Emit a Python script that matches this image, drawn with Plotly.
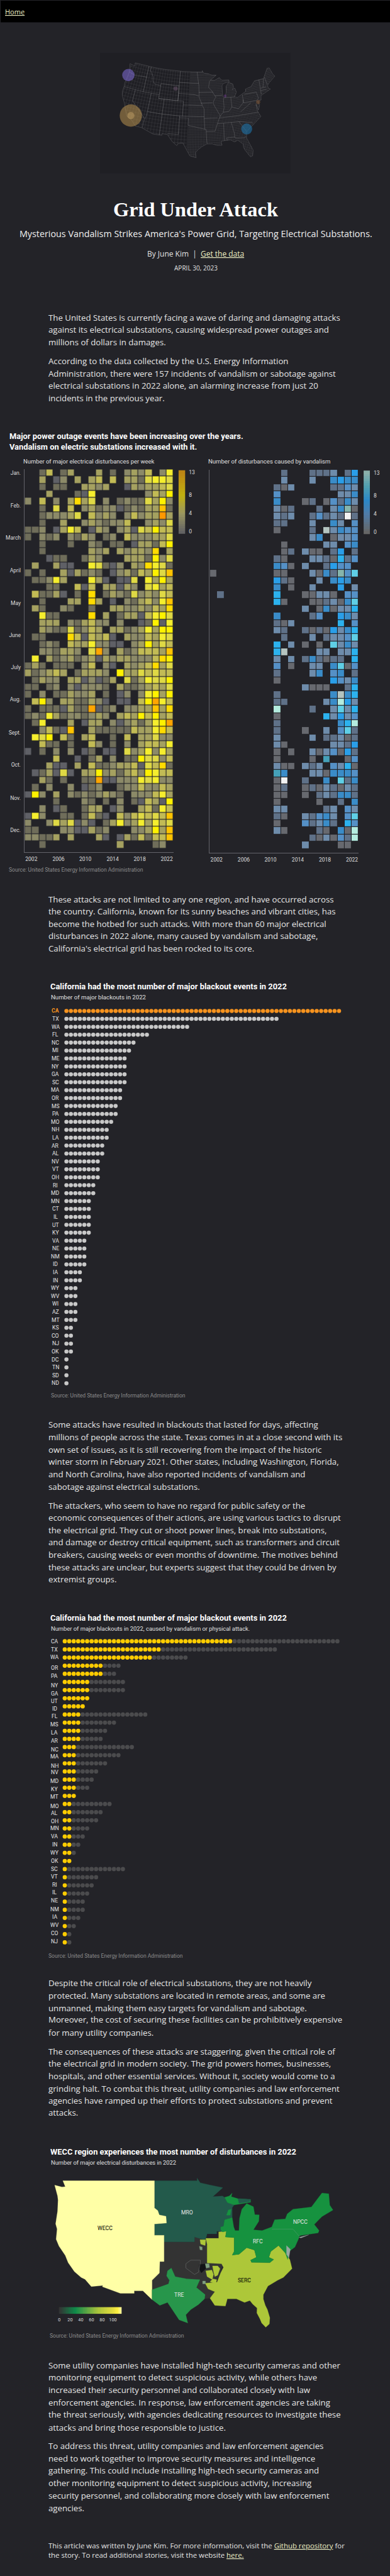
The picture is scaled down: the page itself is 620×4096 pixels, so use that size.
import numpy as np
import plotly.graph_objects as go

# ---------------------------------------------------------------- page frame
REF_W, REF_H = 900.0, 5949.0
S = 620.0 / REF_W
BG = "#232328"
OPEN = "Open Sans"
ROBOTO = "Roboto"
BODY = "#e6e6e6"
LINK = "#eef0c4"

# ---------------------------------------------------------------- heatmap data
years = list(range(2002, 2023))
tick_years = ["2002", "2006", "2010", "2014", "2018", "2022"]
tick_year_pos = [2002.41, 2006.25, 2010.03, 2013.89, 2017.71, 2021.53]
months = ["Jan.", "Feb.", "March", "April", "May", "June", "July", "Aug.", "Sept.", "Oct.", "Nov.", "Dec."]
month_rows = [0.02, 4.56, 9.1, 13.6, 18.2, 22.7, 27.2, 31.7, 36.3, 40.8, 45.5, 50.0]

disturbances = [
    [0,0,2,5,0,2,4,0,0,0,4,0,2,0,3,4,3,5,0,3,7],
    [0,0,4,0,1,3,0,4,0,4,5,0,5,0,4,4,2,6,7,7,6],
    [0,0,2,0,2,2,0,0,4,4,3,4,0,0,1,4,3,4,4,5,6],
    [0,0,0,4,0,0,0,2,1,7,0,0,0,0,0,0,0,3,5,4,8],
    [3,0,5,0,3,0,4,9,4,6,0,3,0,2,3,2,2,6,4,8,3],
    [0,0,2,0,6,0,5,0,3,4,2,3,3,1,2,3,2,4,4,10,2],
    [0,0,2,3,3,3,4,6,0,5,3,4,3,0,3,5,3,4,4,12,4],
    [0,0,2,0,0,4,0,0,3,4,3,2,3,3,5,0,0,3,4,3,6],
    [2,2,3,0,1,4,7,5,0,1,4,3,0,3,4,1,6,5,8,5,5],
    [2,0,3,2,3,0,3,2,4,3,0,2,3,0,5,3,3,3,4,4,6],
    [0,0,2,0,0,0,2,0,0,3,2,0,2,2,0,1,4,4,2,5,8],
    [0,0,2,0,0,0,0,0,0,4,3,4,0,4,3,4,4,3,9,0,4],
    [0,0,0,1,2,2,0,0,2,4,3,0,0,0,4,4,4,2,8,3,6],
    [0,4,0,0,4,1,1,0,0,7,6,2,1,3,0,4,3,9,7,6,2],
    [2,0,2,0,0,4,1,4,2,3,2,0,1,3,4,2,5,4,8,6,10],
    [0,2,2,3,7,4,0,0,0,7,4,1,0,1,1,6,0,7,4,8,4],
    [0,0,0,2,2,0,0,5,1,5,0,4,4,1,4,3,0,6,7,4,5],
    [0,5,2,2,4,1,0,2,0,9,0,2,4,3,2,6,3,4,3,6,5],
    [0,0,2,0,0,0,4,4,0,9,4,0,1,0,3,2,4,5,3,7,10],
    [0,4,2,0,0,3,2,0,0,2,0,0,4,4,3,3,4,3,5,4,9],
    [0,0,7,2,2,0,0,0,0,9,0,4,0,2,4,4,1,5,7,8,6],
    [0,0,4,4,4,0,3,2,4,5,3,3,0,3,0,0,1,2,8,1,7],
    [0,0,4,3,2,2,6,2,3,5,4,0,4,4,2,3,4,7,4,8,8],
    [0,2,2,0,0,0,9,5,1,5,4,5,1,0,4,3,3,5,4,7,6],
    [0,0,2,3,2,0,5,4,4,7,3,3,1,1,0,3,4,8,4,6,5],
    [0,0,3,3,2,4,4,3,0,6,11,3,0,4,2,3,5,5,5,4,10],
    [0,7,0,4,2,3,4,2,3,4,1,4,3,4,4,3,3,3,5,9,8],
    [2,4,2,0,2,2,2,0,3,5,0,3,1,0,4,3,4,5,9,4,6],
    [4,2,3,4,5,4,0,2,4,4,4,3,0,8,4,4,6,5,6,5,5],
    [0,2,4,3,3,0,4,4,1,3,1,2,4,0,6,2,4,7,6,6,8],
    [2,2,0,2,3,0,3,1,3,3,3,2,0,4,2,2,3,4,5,4,6],
    [2,0,3,0,2,2,4,3,3,4,0,2,0,1,3,0,3,7,8,4,8],
    [0,5,8,3,0,4,4,2,2,4,3,1,0,1,1,0,5,8,11,7,5],
    [2,0,2,2,2,1,4,2,2,11,1,2,3,0,3,3,4,4,10,4,9],
    [2,3,2,7,4,2,3,3,2,3,4,3,0,4,5,4,8,5,8,4,5],
    [0,2,7,0,0,0,4,0,1,4,4,0,3,1,3,4,2,4,7,8,11],
    [0,0,3,5,2,1,10,0,0,4,2,2,2,2,2,5,4,4,7,9,5],
    [0,7,6,8,0,5,2,0,4,5,0,0,2,0,5,0,4,4,6,3,3],
    [0,0,5,2,2,0,2,0,0,5,3,0,2,0,3,0,4,5,5,4,7],
    [1,0,2,0,3,0,3,0,1,2,0,1,1,0,6,3,4,7,3,7,4],
    [0,0,0,0,5,0,0,1,0,2,4,0,3,0,2,2,8,6,6,3,5],
    [0,0,0,4,1,1,0,4,0,5,2,2,3,4,4,5,1,6,5,9,2],
    [0,1,2,4,1,6,1,0,4,4,8,3,4,2,4,5,3,8,7,5,5],
    [0,0,4,2,0,2,0,0,2,2,11,1,1,3,3,3,7,6,7,3,3],
    [0,2,0,3,0,0,3,0,1,2,3,0,0,2,3,3,5,3,3,5,4],
    [1,8,3,0,4,0,3,2,3,2,3,4,3,2,0,3,3,3,5,7,4],
    [0,0,0,0,2,0,0,0,3,2,0,2,0,3,0,2,1,5,4,1,8],
    [0,0,3,0,1,2,0,0,2,4,4,0,1,3,0,0,4,5,2,7,5],
    [1,7,3,0,0,2,2,0,2,5,2,1,0,5,3,5,6,5,6,5,10],
    [3,0,0,3,6,4,6,1,3,1,0,2,4,7,3,4,7,4,7,5,6],
    [2,2,0,0,0,3,3,1,1,4,2,3,0,0,0,3,3,4,8,4,10],
    [3,3,2,2,4,0,4,0,0,0,4,1,0,1,4,2,5,2,5,5,10],
    [0,0,2,0,0,0,0,0,0,0,0,0,0,4,0,0,0,0,2,3,0],
]

# vandalism counts per week row, keyed by column index (2002 = 0)
vandalism_sparse = [
    {10:2,14:2,15:2,16:2,17:3,19:2,20:6},
    {10:3,14:3,17:5,18:6,19:5,20:5},
    {9:2,10:1,11:3,17:2,18:2,19:4,20:3},
    {9:4,18:3,19:3,20:5},
    {9:5,13:1,14:2,16:1,17:4,18:2,19:5,20:3},
    {9:3,10:1,11:2,15:2,17:3,18:5,19:10,20:1},
    {9:3,10:2,11:3,14:2,15:4,16:2,17:3,18:2,19:13,20:2},
    {9:2,10:2,14:3,17:5,18:3,20:4},
    {9:1,14:2,16:11,17:3,18:5,19:4,20:4},
    {14:3,15:5,17:1,18:3,19:3,20:4},
    {10:1,16:3,17:3,19:4,20:5},
    {10:1,11:2,13:3,14:1,15:1,17:2,18:6,20:2},
    {9:2,10:1,14:3,15:3,16:2,17:1,18:7,19:2,20:4},
    {9:5,10:4,11:1,13:3,16:2,17:6,18:4,19:4},
    {0:1,9:1,10:1,14:3,15:1,16:5,17:2,18:10,19:4,20:8},
    {9:6,10:2,11:1,15:3,17:5,18:6,19:5},
    {9:5,11:1,14:3,18:6,20:3},
    {1:2,9:7,13:1,14:1,15:3,16:3,17:1,19:4,20:4},
    {9:7,10:1,14:1,15:1,16:2,17:3,18:1,19:5,20:8},
    {13:3,15:1,16:5,17:1,18:3,19:3,20:7},
    {9:5,14:2,15:4,18:6,19:5,20:3},
    {9:2,10:1,11:3,18:7,20:4},
    {9:3,10:2,13:2,14:1,15:2,16:1,17:6,18:3,19:5,20:7},
    {10:2,14:3,16:2,17:3,18:3,19:4,20:8},
    {9:7,11:3,13:1,15:1,17:8,18:3,19:5,20:3},
    {9:7,10:11,15:3,16:3,18:3,19:3,20:7},
    {9:3,11:3,13:2,14:5,15:2,16:1,17:2,18:2,20:7},
    {9:4,11:1,14:3,15:3,17:5,18:8,19:1,20:4},
    {9:2,14:3,15:5,17:4,18:5,20:2},
    {9:1,17:6,18:4,19:3,20:5},
    {13:3,14:1,15:1,16:1,19:2,20:7},
    {9:2,17:5,18:11,19:5,20:7},
    {9:2,10:2,16:3,17:5,18:12,19:6,20:3},
    {9:12,14:2,17:3,18:8,19:3,20:7},
    {9:1,16:7,17:3,18:6,19:3,20:4},
    {9:2,18:5,19:7,20:12},
    {9:2,13:1,16:3,18:4,19:8,20:2},
    {9:3,14:3,16:2,17:2,18:3,19:1,20:2},
    {9:3,10:1,17:3,18:3,19:2,20:6},
    {9:1,11:1,14:3,15:1,16:3,17:4,18:1,19:6,20:2},
    {9:1,14:1,16:9,19:1,20:4},
    {9:3,10:1,11:1,13:3,14:2,15:3,17:4,18:3,19:7,20:1},
    {9:9,10:5,14:3,15:3,16:1,17:5,18:5,19:5,20:4},
    {9:1,10:13,13:2,16:5,18:8,19:2,20:5},
    {9:1,10:2,13:1,14:2,15:1,16:3,17:2,18:1,19:3,20:2},
    {9:1,10:1,13:1,15:2,16:3,17:2,18:5,19:5,20:2},
    {9:1,15:1,18:2,20:5},
    {9:3,10:3,16:2,17:3,19:4,20:3},
    {9:2,10:1,13:3,14:2,15:4,16:5,17:3,19:4,20:8},
    {9:1,13:4,14:2,15:3,16:5,17:2,19:7,20:4},
    {9:3,10:1,15:2,16:1,18:5,19:1,20:12},
    {14:2,15:1,16:3,17:1,18:4,19:2,20:12},
    {13:3,18:1,19:1},
]

yellow_levels = ["#5f6066","#6f6d5a","#8c8a68","#a5a160","#c2bb55","#dfd945","#f5ee2e","#fff200","#ffdc00","#ffc400","#ffa600","#ff9800"]
blue_levels = ["#67696f","#5f7188","#6e8cab","#5590c6","#3a8cc8","#2a9ee8","#2cb2ee","#5fcfe6","#45a0b8","#86b5ac","#b4c4c0","#b4ecdf","#f2f2f2"]
legend_ticks = [0, 4, 8, 13]
yellow_legend = [(0, "#636363"), (4/13, "#9a9660"), (8/13, "#c0b010"), (1, "#bb8514")]
blue_legend = [(0, "#666666"), (4/13, "#4f7ca8"), (7/13, "#2b88c8"), (10/13, "#4f9fb0"), (1, "#8bb0aa")]

# ---------------------------------------------------------------- dot chart data
blackout_states = ["CA","TX","WA","FL","NC","MI","ME","NY","GA","SC","MA","OR","MS","PA","MO","NH","LA","AR","AL","NV","VT","OH","RI","MD","MN","CT","IL","UT","KY","VA","NE","NM","ID","IA","IN","WY","WV","WI","AZ","MT","KS","CO","NJ","OK","DC","TN","SD","ND"]
blackout_counts = [62,48,28,19,16,15,14,14,14,14,13,13,12,12,11,10,10,9,9,8,8,8,7,7,6,6,6,6,6,5,5,5,5,4,4,3,3,3,3,3,2,2,2,2,1,1,1,1]

attack_states = ["CA","TX","WA","OR","PA","NY","GA","UT","ID","FL","MS","LA","AR","NC","MA","NH","NV","MD","KY","MT","MO","AL","OH","MN","VA","IN","WY","OK","SC","VT","RI","IL","NE","NM","IA","WV","CO","NJ"]
attack_counts = [38,22,20,9,9,6,6,6,5,4,4,4,4,3,3,3,3,3,3,3,2,2,2,2,2,2,2,2,1,1,1,1,1,1,1,1,1,1]
attack_totals = [62,48,28,13,12,14,14,6,5,19,12,10,9,16,13,10,8,7,6,3,11,9,8,6,5,4,3,2,14,8,7,6,5,5,4,3,2,2]
attack_label_shift = [0,0,-.04,.25,.29,.41,.41,.33,.29,.2,.24,.24,.2,.33,.2,.29,.12,.16,.16,.12,.24,.12,.12,0,0,-.04,-.04,0,0,-.04,-.08,-.12,-.12,-.08,-.16,-.08,-.08,-.08]

# ---------------------------------------------------------------- region map data (lon, lat)
wecc = [(-123.0,49),(-122.5,48.2),(-123.2,48.15),(-124.7,48.4),(-124.1,46.9),(-124.0,46.3),(-124.1,44.7),(-124.5,42.8),(-124.2,42),(-124.4,40.4),(-123.8,39.3),(-122.5,37.8),(-121.9,36.6),(-120.6,35.1),(-119.2,34.1),(-118.4,33.8),(-117.1,32.53),(-114.7,32.72),(-114.8,32.5),(-111.07,31.33),(-108.2,31.33),(-108.2,31.78),(-106.4,31.78),(-104.5,30.23),(-104.5,31.98),(-104.5,33.62),(-102.97,34.87),(-102.89,36.79),(-102.01,36.79),(-102.01,41.03),(-104.0,41.03),(-104.0,42.77),(-101.49,42.92),(-101.6,43.94),(-103.0,44.14),(-103.3,44.78),(-104.0,45.18),(-104.0,49)]
mro = [(-104,49),(-95.15,49),(-95.15,49.38),(-94.5,48.74),(-92.5,48.43),(-89.8,48.06),(-91.87,46.8),(-89.87,46.9),(-89.45,46.7),(-88.86,46.0),(-87.46,45.63),(-87.86,45.2),(-87.86,43.76),(-89.46,43.43),(-89.67,42.43),(-90.27,42.32),(-90.27,41.88),(-89.87,41.55),(-91.07,41.66),(-91.07,41.26),(-93.07,41.26),(-93.27,40.66),(-93.67,40.33),(-95.68,40.77),(-95.68,40),(-102.01,40),(-102.01,41.03),(-104,41.03),(-104,42.77),(-101.49,42.92),(-101.6,43.94),(-103,44.14),(-103.3,44.78),(-104,45.18)]
spp = [(-102.01,40),(-95.68,40),(-95.68,40.77),(-93.47,40.55),(-93.07,39.64),(-93.07,36.79),(-89.67,36.43),(-90.87,33.87),(-93.07,33.12),(-92.87,32.11),(-91.47,31.61),(-92.47,30.48),(-93.59,30.35),(-93.47,31.11),(-95.28,32.36),(-94.55,33.74),(-97.28,33.87),(-99.68,34.25),(-100.49,35.71),(-101.29,35.24),(-101.49,34.37),(-100.89,33.62),(-101.09,32.99),(-103.29,32.36),(-104.5,31.98),(-104.5,33.62),(-102.97,34.87),(-102.89,36.79),(-102.01,36.79)]
tre = [(-104.5,31.98),(-103.29,32.36),(-101.09,32.99),(-100.89,33.62),(-101.49,34.37),(-101.29,35.24),(-100.49,35.71),(-99.68,34.25),(-97.28,33.87),(-94.55,33.74),(-95.28,32.36),(-93.47,31.11),(-93.59,30.35),(-94.88,29.31),(-96.48,28.39),(-97.48,27.46),(-97.08,25.93),(-98.88,26.53),(-100.09,28.12),(-101.29,29.71),(-102.89,29.18),(-104.5,30.23)]
serc = [(-93.35,40.55),(-90.67,40.55),(-90.67,41.55),(-89.07,41.66),(-89.27,40.77),(-87.46,40.66),(-87.46,38.45),(-87.86,37.86),(-86.46,37.98),(-84.86,39.05),(-83.25,38.69),(-82.85,37.5),(-84.05,37.02),(-83.85,36.67),(-80.05,36.6),(-79.25,37.14),(-80.25,37.5),(-79.85,38.45),(-78.25,39.4),(-76.84,38.21),(-75.9,37.1),(-75.44,35.6),(-77.24,34.12),(-78.44,33.62),(-80.45,32.61),(-81.4,31.1),(-81.4,30.3),(-81.0,29.2),(-80.55,28.4),(-80.05,26.9),(-80.15,25.75),(-80.9,25.15),(-81.75,25.95),(-82.1,26.7),(-82.75,27.8),(-82.7,28.7),(-83.6,29.4),(-84.2,30.05),(-85.3,29.7),(-87,30.35),(-88.87,30.35),(-89.27,29.05),(-91.47,29.18),(-92.47,30.48),(-91.47,31.61),(-92.87,32.11),(-93.47,33.12),(-91.0,33.3),(-90.27,34.87),(-89.67,35.83),(-90.07,36.43),(-93.07,36.55),(-93.07,39.64)]
rfc = [(-90.27,42.32),(-89.67,42.43),(-89.46,43.43),(-87.86,43.76),(-87.54,42.32),(-87.26,41.77),(-86.46,41.77),(-86.34,43.65),(-85.86,44.98),(-84.86,45.8),(-83.46,45.35),(-83.17,44.18),(-82.25,44.16),(-82.34,43.18),(-83.46,41.88),(-81.65,41.77),(-79.65,42.32),(-79.65,41.99),(-75.24,41.99),(-73.96,40.88),(-74.04,40.55),(-74.84,39.17),(-76.04,38.45),(-76.36,37.14),(-76.84,38.21),(-78.25,39.4),(-79.85,38.45),(-80.25,37.5),(-79.25,37.14),(-80.05,36.6),(-83.85,36.67),(-84.05,37.02),(-82.85,37.5),(-83.25,38.69),(-84.86,39.05),(-86.46,37.98),(-87.86,37.86),(-87.46,38.45),(-87.46,40.66),(-89.27,40.77),(-89.07,41.66),(-89.87,41.55),(-90.27,41.88)]
npcc = [(-79.65,42.32),(-79.05,43.43),(-76.84,43.54),(-76.44,44.3),(-75.24,44.98),(-71.43,45.3),(-70.03,46.6),(-69.23,47.32),(-67.82,47.21),(-67.62,45.59),(-66.94,44.86),(-69.23,43.9),(-70.83,42.7),(-69.83,41.77),(-70.03,41.4),(-73.64,41.0),(-73.96,40.88),(-75.24,41.99),(-79.65,41.99)]
upper_michigan = [(-89.45,46.7),(-88.46,46.9),(-87.87,47.3),(-88.06,46.8),(-86.66,46.5),(-84.05,46.4),(-84.05,46.0),(-86.86,45.7),(-87.46,45.6),(-88.86,45.95)]
upper_michigan_east = [(-86.66,46.5),(-84.05,46.4),(-84.25,46.05),(-86.45,45.85)]
green_bay = [(-89.06,44.1),(-88.66,44.87),(-88.06,44.98),(-88.26,44.1)]
serc_patch_ks = [(-94.55,40.33),(-93.35,40.33),(-93.47,39.4),(-94.4,39.64)]
serc_patch_a = [(-93.35,35.24),(-92.07,35.36),(-91.75,34.62),(-91.99,33.74),(-93.07,34.25)]
serc_patch_b = [(-91.95,36.07),(-90.87,36.07),(-90.39,35.6),(-90.87,34.5),(-91.47,34.25),(-91.75,35.12)]
serc_patch_c = [(-91.87,33.87),(-91.07,33.74),(-91.27,32.99),(-92.47,33.37)]
black_patch = [(-94.68,36.31),(-93.27,36.43),(-93.35,35.6),(-94.27,34.9),(-94.68,35.5)]
gray_patch_a = [(-93.47,36.43),(-92.67,36.43),(-92.55,35.83),(-93.27,35.7)]
gray_patch_b = [(-94.0,33.5),(-93.4,33.5),(-93.4,33.0),(-94.0,33.0)]
gray_patch_c = [(-94.68,39.29),(-94.08,39.17),(-94.08,38.69),(-94.55,38.74)]
chesapeake = [(-76.6,39.4),(-75.8,38.8),(-76.1,37.4),(-76.6,38.0)]
long_island = [(-74.0,40.7),(-72.0,41.1),(-73.6,40.6)]
outlined_area = [(-97.48,36.43),(-96.48,37.02),(-94.47,37.02),(-94.47,36.55),(-94.87,35.0),(-95.68,34.62),(-97.48,35.71),(-97.48,36.43)]
ny_pa_line = [(-79.65,41.99),(-75.24,41.99),(-73.96,40.88)]

region_fill = [
    (spp, "#333333"), (mro, "#235a4b"), (wecc, "#ffffa6"), (tre, "#27964b"),
    (serc, "#adc739"), (rfc, "#16923f"), (npcc, "#16923f"), (upper_michigan, "#16923f"),
    (upper_michigan_east, "#235a4b"), (green_bay, "#16923f"), (serc_patch_ks, "#adc739"),
    (serc_patch_a, "#adc739"), (serc_patch_b, "#adc739"), (serc_patch_c, "#adc739"),
    (black_patch, "#111216"), (gray_patch_a, "#7f9f80"), (gray_patch_b, "#7f9f80"),
    (gray_patch_c, "#7f9f80"), (chesapeake, "#98a8a0"), (long_island, "#98a8a0"),
]
region_names = ["WECC", "MRO", "NPCC", "RFC", "SERC", "TRE"]
region_name_lon = [-114.3, -97.2, -73.75, -82.5, -85.3, -98.9]
region_name_lat = [42.15, 44.5, 43.05, 40.05, 33.55, 31.08]
region_name_color = ["#000000", "#e8e8e8", "#e8e8e8", "#e8e8e8", "#000000", "#e8e8e8"]
map_scale_stops = [0, 20, 40, 60, 80, 100]
map_scale_values = list(range(0, 118, 2))
map_scale = [(0, "#333333"), (30/116, "#0f8a4a"), (48/116, "#4ea045"), (72/116, "#a8c23c"), (100/116, "#e2dc3e"), (110/116, "#fff040"), (1, "#fff8a0")]

# ---------------------------------------------------------------- cover map data
conus = [(-122.8,49),(-95.15,49),(-95.15,49.38),(-94.6,48.72),(-93,48.6),(-91.4,48.07),(-89.6,48.0),(-92,46.7),(-90.4,46.6),(-88.4,47.3),(-87.5,46.5),(-84.8,46.5),(-84.7,45.9),(-87,45.7),(-87.6,45.1),(-87.8,43),(-87.5,41.7),(-86.9,41.7),(-86.3,43),(-86.2,44.7),(-85,45.75),(-83.5,45.3),(-83.3,44.3),(-83.9,43.7),(-82.9,44),(-82.4,43),(-83.2,42),(-83.4,41.7),(-82.5,41.4),(-81,41.9),(-79,42.7),(-79,43.3),(-76.8,43.6),(-76.2,44.2),(-75,45),(-71.5,45),(-70.3,46.2),(-69.2,47.45),(-68.2,47.35),(-67.8,45.7),(-67,44.8),(-69,44),(-70.7,43),(-70.7,42.2),(-70,41.8),(-71.2,41.5),(-73.8,40.9),(-74,40.55),(-74.2,39.6),(-75.5,39.4),(-75.1,38.4),(-75.9,37.1),(-76.3,38.8),(-76.4,37),(-75.5,35.3),(-76.6,34.7),(-78,33.9),(-79.3,33),(-81,32),(-81.4,30.4),(-80.6,28.4),(-80,26.8),(-80.3,25.3),(-81.1,25.1),(-81.8,26.1),(-82.7,27.7),(-82.7,28.8),(-83.7,29.7),(-84.2,30.05),(-85.3,29.7),(-86.5,30.4),(-88,30.25),(-89.5,30.2),(-89.2,29.1),(-90.6,29.1),(-92,29.6),(-93.8,29.7),(-94.8,29.3),(-96.5,28.3),(-97.4,27.3),(-97.2,25.9),(-99.1,26.4),(-100.3,28.3),(-101.4,29.8),(-102.7,29.7),(-103.2,29),(-104.5,29.7),(-106.5,31.75),(-108.2,31.78),(-108.2,31.33),(-111.07,31.33),(-114.8,32.5),(-117.1,32.53),(-118.4,33.8),(-120.6,34.6),(-121.9,36.6),(-122.5,37.8),(-123.8,39.3),(-124.4,40.4),(-124.2,42),(-124.5,42.8),(-124.1,44.7),(-124,46.3),(-124.7,48.4),(-123.2,48.15),(-122.5,48.2)]
state_lines = [
    [(-124,46.25),(-122.8,45.9),(-121,45.65),(-119,46),(-116.9,46)],
    [(-117.03,49),(-117.03,46),(-116.9,45.9),(-117,44.2),(-117,42)],
    [(-124.2,42),(-111.05,42)],
    [(-120,42),(-120,39),(-114.6,35)],
    [(-114.05,42),(-114.05,36.2),(-114.6,35),(-114.8,32.5)],
    [(-116.05,49),(-116.05,48),(-114.5,46.6),(-114.5,45.6),(-113.4,44.6),(-111.05,44.5)],
    [(-111.05,45),(-104.05,45),(-104.05,41),(-111.05,41),(-111.05,45)],
    [(-111.05,41),(-109.05,41),(-109.05,37),(-114.05,37)],
    [(-109.05,41),(-102.05,41),(-102.05,37),(-109.05,37)],
    [(-109.05,37),(-109.05,31.33)],
    [(-103,37),(-103,32),(-106.6,32)],
    [(-104.05,49),(-104.05,41)],
    [(-104.05,45.94),(-96.56,45.94)],
    [(-104.05,43),(-98.5,43),(-96.5,42.5)],
    [(-102.05,40),(-95.3,40)],
    [(-102.05,37),(-94.62,37)],
    [(-103,36.5),(-100,36.5),(-100,34.6),(-94.5,33.7),(-94.05,33.55),(-94.05,31),(-93.8,29.7)],
    [(-94.05,33),(-91.2,33),(-90.1,35),(-89.5,36.5),(-89.1,37),(-90.2,38.8),(-91.4,40.4),(-91,41.5),(-90.2,42),(-91.2,43.5),(-92.8,44.8),(-92.3,46.6)],
    [(-96.5,43.5),(-91.2,43.5)],
    [(-95.8,40.6),(-91.7,40.6)],
    [(-97.2,49),(-96.5,45.9),(-96.45,43.5),(-96.5,42.5),(-95.3,40),(-94.62,39.1),(-94.62,36.5),(-90.1,36.5)],
    [(-94.62,36.5),(-94.45,33.6)],
    [(-90.6,42.5),(-87.8,42.5)],
    [(-87.5,41.7),(-87.5,39.3),(-88,37.9)],
    [(-89.1,37),(-88,37.9),(-86,38),(-84.8,39.1),(-82.6,38.4),(-80.7,39.7),(-80.5,40.6)],
    [(-89.5,36.5),(-81.7,36.6),(-75.9,36.55)],
    [(-90.2,35),(-84.3,35),(-83.1,35),(-79,34.3),(-78.6,33.9)],
    [(-88.2,35),(-88.4,30.3)],
    [(-85.6,35),(-85,32.5),(-85,31),(-87.6,31),(-87.5,30.3)],
    [(-85,31),(-84.9,30.7),(-82.2,30.4),(-81.5,30.7)],
    [(-83.1,35),(-81,32)],
    [(-84.8,41.7),(-84.8,39.1)],
    [(-87,41.75),(-83.4,41.7)],
    [(-80.5,42),(-80.5,39.72),(-75.8,39.72),(-75,40.2),(-75.3,41.9),(-79.76,42)],
    [(-73.3,45),(-73.5,42),(-73.7,41)],
    [(-71.5,45),(-72.5,43),(-72.5,42.7)],
    [(-73.5,42.05),(-71.4,42)],
    [(-73.3,42.7),(-71.3,42.7)],
    [(-82,37.5),(-80,38.5),(-78,39.4)],
    [(-71,45.3),(-70.7,43.1)],
]
cover_lon = [-124.0, -119.3, -119.3, -80.9, -105.3, -86.8, -75.4]
cover_lat = [45.3, 35.0, 35.0, 32.7, 44.2, 42.2, 39.2]
cover_size = [28.6, 51.4, 16.6, 25.4, 10, 7, 9.4]
cover_color = ["rgba(122,104,205,0.85)", "rgba(190,150,80,0.75)", "rgba(225,190,120,0.5)", "rgba(30,115,170,0.85)",
               "rgba(150,110,150,0.45)", "rgba(130,60,170,0.5)", "rgba(190,120,60,0.45)"]

# ---------------------------------------------------------------- article text
para_1 = ["The United States is currently facing a wave of daring and damaging attacks",
          "against its electrical substations, causing widespread power outages and",
          "millions of dollars in damages."]
para_2 = ["According to the data collected by the U.S. Energy Information",
          "Administration, there were 157 incidents of vandalism or sabotage against",
          "electrical substations in 2022 alone, an alarming increase from just 20",
          "incidents in the previous year."]
para_3 = ["These attacks are not limited to any one region, and have occurred across",
          "the country. California, known for its sunny beaches and vibrant cities, has",
          "become the hotbed for such attacks. With more than 60 major electrical",
          "disturbances in 2022 alone, many caused by vandalism and sabotage,",
          "California's electrical grid has been rocked to its core."]
para_4 = ["Some attacks have resulted in blackouts that lasted for days, affecting",
          "millions of people across the state. Texas comes in at a close second with its",
          "own set of issues, as it is still recovering from the impact of the historic",
          "winter storm in February 2021. Other states, including Washington, Florida,",
          "and North Carolina, have also reported incidents of vandalism and",
          "sabotage against electrical substations."]
para_5 = ["The attackers, who seem to have no regard for public safety or the",
          "economic consequences of their actions, are using various tactics to disrupt",
          "the electrical grid. They cut or shoot power lines, break into substations,",
          "and damage or destroy critical equipment, such as transformers and circuit",
          "breakers, causing weeks or even months of downtime. The motives behind",
          "these attacks are unclear, but experts suggest that they could be driven by",
          "extremist groups."]
para_6 = ["Despite the critical role of electrical substations, they are not heavily",
          "protected. Many substations are located in remote areas, and some are",
          "unmanned, making them easy targets for vandalism and sabotage.",
          "Moreover, the cost of securing these facilities can be prohibitively expensive",
          "for many utility companies."]
para_7 = ["The consequences of these attacks are staggering, given the critical role of",
          "the electrical grid in modern society. The grid powers homes, businesses,",
          "hospitals, and other essential services. Without it, society would come to a",
          "grinding halt. To combat this threat, utility companies and law enforcement",
          "agencies have ramped up their efforts to protect substations and prevent",
          "attacks."]
para_8 = ["Some utility companies have installed high-tech security cameras and other",
          "monitoring equipment to detect suspicious activity, while others have",
          "increased their security personnel and collaborated closely with law",
          "enforcement agencies. In response, law enforcement agencies are taking",
          "the threat seriously, with agencies dedicating resources to investigate these",
          "attacks and bring those responsible to justice."]
para_9 = ["To address this threat, utility companies and law enforcement agencies",
          "need to work together to improve security measures and intelligence",
          "gathering. This could include installing high-tech security cameras and",
          "other monitoring equipment to detect suspicious activity, increasing",
          "security personnel, and collaborating more closely with law enforcement",
          "agencies."]
para_ys = [
    (para_1, [732, 760.6, 789]),
    (para_2, [832, 861, 889, 918]),
    (para_3, [2076, 2104, 2132.8, 2161, 2190]),
    (para_4, [3290, 3319, 3348, 3375.6, 3404.7, 3433]),
    (para_5, [3476.6, 3505, 3534, 3562, 3590.6, 3619.7, 3648]),
    (para_6, [4580.4, 4608.7, 4638, 4665, 4694.5]),
    (para_7, [4739, 4766, 4795.5, 4824, 4852, 4880]),
    (para_8, [5463.4, 5491.7, 5521, 5549, 5577.5, 5607]),
    (para_9, [5650, 5678.5, 5707, 5736, 5764, 5793.6]),
]

# ---------------------------------------------------------------- helpers
annotations, shapes = [], []
fig = go.Figure()
axis_no = 0


def label(text, X, Y, size, color=BODY, font=OPEN, anchor="left"):
    annotations.append(dict(text=text, x=X / REF_W, y=1 - Y / REF_H, xref="paper", yref="paper",
                            xanchor=anchor, yanchor="middle", showarrow=False, borderpad=0, borderwidth=0,
                            font=dict(family=font, size=size * S, color=color)))


def new_axes(X0, X1, Y0, Y1, xrange, yrange, xkw=None, ykw=None):
    global axis_no
    axis_no += 1
    sfx = "" if axis_no == 1 else str(axis_no)
    base = dict(visible=False, fixedrange=True, showgrid=False, zeroline=False)
    xa = dict(base, domain=[X0 / REF_W, X1 / REF_W], range=list(xrange), anchor="y" + sfx)
    ya = dict(base, domain=[1 - Y1 / REF_H, 1 - Y0 / REF_H], range=list(yrange), anchor="x" + sfx)
    xa.update(xkw or {})
    ya.update(ykw or {})
    fig.layout["xaxis" + sfx] = xa
    fig.layout["yaxis" + sfx] = ya
    return "x" + sfx, "y" + sfx


def ramp(colors):
    return [(i / (len(colors) - 1), c) for i, c in enumerate(colors)]


def merc(lat):
    return np.arcsinh(np.tan(np.radians(lat)))


def albers(lon, lat):
    R, n = 6371.0, (np.sin(np.radians(29.5)) + np.sin(np.radians(45.5))) / 2
    C = np.cos(np.radians(29.5)) ** 2 + 2 * n * np.sin(np.radians(29.5))
    rho = R * np.sqrt(C - 2 * n * np.sin(np.radians(lat))) / n
    rho0 = R * np.sqrt(C - 2 * n * np.sin(np.radians(37.5))) / n
    th = np.radians(n * (np.asarray(lon) + 96.0))
    return rho * np.sin(th), rho0 - rho * np.cos(th)


def inside(lon, lat, poly):
    px, py = np.array(poly).T
    qx, qy = np.roll(px, 1), np.roll(py, 1)
    hit = np.zeros(len(lon), dtype=bool)
    for a, b, c, d in zip(px, py, qx, qy):
        cross = (b > lat) != (d > lat)
        with np.errstate(divide="ignore", invalid="ignore"):
            hit ^= cross & (lon < (c - a) * (lat - b) / (d - b) + a)
    return hit


# ---------------------------------------------------------------- frame shapes
def rect(X0, Y0, X1, Y1, color):
    shapes.append(dict(type="rect", xref="paper", yref="paper", x0=X0 / REF_W, x1=X1 / REF_W,
                       y0=1 - Y1 / REF_H, y1=1 - Y0 / REF_H, fillcolor=color, line_width=0, layer="below"))


rect(0, 0, 900, 50, "#000000")
rect(230, 121, 670, 399, "#1f1f24")

# ---------------------------------------------------------------- cover map
KM = 0.0769
xa, ya = new_axes(230, 670, 121, 399,
                  ((230 - 280) / KM - 2356, (670 - 280) / KM - 2356),
                  (1570 - (399 - 143) / KM, 1570 - (121 - 143) / KM))
mesh_lon, mesh_lat = [], []
east_lats, west_lats = np.arange(25, 49.5, 0.45), np.arange(25.3, 49.5, 0.9)
east_lons, west_lons = np.arange(-100, -66.5, 0.5), np.arange(-125, -100, 1.0)
for lat_v in east_lats:
    mesh_lon.append(np.arange(-100, -66.5, 0.2)); mesh_lat.append(np.full(len(mesh_lon[-1]), lat_v))
for lat_v in west_lats:
    mesh_lon.append(np.arange(-125, -100, 0.2)); mesh_lat.append(np.full(len(mesh_lon[-1]), lat_v))
for lon_v in np.concatenate([east_lons, west_lons]):
    mesh_lat.append(np.arange(25, 49.5, 0.2)); mesh_lon.append(np.full(len(mesh_lat[-1]), lon_v))
mx, my = [], []
for lo, la in zip(mesh_lon, mesh_lat):
    keep = inside(lo, la, conus)
    x_, y_ = albers(lo, la)
    x_ = np.where(keep, x_, np.nan); y_ = np.where(keep, y_, np.nan)
    mx.extend(np.round(x_, 0).tolist() + [None]); my.extend(np.round(y_, 0).tolist() + [None])
mx = [None if (v is None or v != v) else v for v in mx]
my = [None if (v is None or v != v) else v for v in my]
fig.add_trace(go.Scatter(x=mx, y=my, mode="lines", xaxis=xa, yaxis=ya, hoverinfo="skip",
                         line=dict(color="rgba(255,255,255,0.16)", width=0.4)))
sx, sy = [], []
for seg in state_lines + [conus + conus[:1]]:
    lo, la = np.array(seg).T
    lo2 = np.concatenate([np.linspace(lo[i], lo[i + 1], 8) for i in range(len(lo) - 1)])
    la2 = np.concatenate([np.linspace(la[i], la[i + 1], 8) for i in range(len(la) - 1)])
    x_, y_ = albers(lo2, la2)
    sx.extend(np.round(x_, 0).tolist() + [None]); sy.extend(np.round(y_, 0).tolist() + [None])
fig.add_trace(go.Scatter(x=sx, y=sy, mode="lines", xaxis=xa, yaxis=ya, hoverinfo="skip",
                         line=dict(color="rgba(255,255,255,0.3)", width=0.5)))
cx, cy = albers(np.array(cover_lon), np.array(cover_lat))
fig.add_trace(go.Scatter(x=cx, y=cy, mode="markers", xaxis=xa, yaxis=ya, hoverinfo="skip",
                         marker=dict(size=[v * S for v in cover_size], color=cover_color, line_width=0)))

# ---------------------------------------------------------------- header text
label('<u>Home</u>', 10, 25, 16, LINK)
label("<b>Grid Under Attack</b>", 451, 482, 47, "#ffffff", "Liberation Serif", "center")
label("Mysterious Vandalism Strikes America's Power Grid, Targeting Electrical Substations.", 451, 539, 20.8, "#f0f0f0", OPEN, "center")
label(f'By June Kim  |  <span style="color:{LINK}"><u>Get the data</u></span>', 451, 585, 17.4, "#e0e0e0", OPEN, "center")
label("APRIL 30, 2023", 451, 617, 14.6, "#e0e0e0", OPEN, "center")

for lines, ys in para_ys:
    for line, y in zip(lines, ys):
        label(line, 110, y, 19.2)
label(f'This article was written by June Kim. For more information, visit the <span style="color:{LINK}"><u>Github repository</u></span> for', 110, 5879.4, 16.6)
label(f'the story. To read additional stories, visit the website <span style="color:{LINK}"><u>here.</u></span>', 110, 5902, 16.6)

# ---------------------------------------------------------------- heatmaps
label("<b>Major power outage events have been increasing over the years.</b>", 20, 1006.7, 18.7, "#ffffff", ROBOTO)
label("<b>Vandalism on electric substations increased with it.</b>", 20, 1031, 18.7, "#ffffff", ROBOTO)
label("Number of major electrical disturbances per week", 53, 1064, 13.7, "#e0e0e0", ROBOTO)
label("Number of disturbances caused by vandalism", 480, 1065, 13.9, "#e0e0e0", ROBOTO)
label("Source: United States Energy Information Administration", 18.4, 2008.8, 12.4, "#8c8c8c", ROBOTO)

vandalism = [[row.get(c, 0) for c in range(21)] for row in vandalism_sparse]


def to_z(rows):
    return [[v if v else None for v in row] for row in rows]


def heat(rows, levels, zmax, X0, X1, Y0, Y1, col0_X, row0_Y, row_labels):
    pitch_x, pitch_y = 16.37, 16.52
    xr = (2002 + (X0 - col0_X) / pitch_x, 2002 + (X1 - col0_X) / pitch_x)
    yr = ((Y1 - row0_Y) / pitch_y, (Y0 - row0_Y) / pitch_y)
    common = dict(visible=True, showline=True, linecolor="#63636a", linewidth=1.1, ticks="outside",
                  ticklen=3, tickcolor="rgba(0,0,0,0)", tickfont=dict(family=ROBOTO, size=12.4 * S, color="#dedede"))
    xk = dict(common, tickmode="array", tickvals=tick_year_pos, ticktext=tick_years, side="bottom")
    yk = dict(common, tickmode="array", tickvals=month_rows if row_labels else [], ticktext=months if row_labels else [])
    ax, ay = new_axes(X0, X1, Y0, Y1, xr, yr, xk, yk)
    fig.add_trace(go.Heatmap(z=to_z(rows), x=years, y=list(range(53)), xaxis=ax, yaxis=ay, showscale=False,
                             colorscale=ramp(levels), zmin=1, zmax=zmax, xgap=1.15, ygap=1.15, hoverinfo="skip"))


heat(disturbances, yellow_levels, 12, 55, 400, 1083, 1967, 64.3, 1091.3, True)
heat(vandalism, blue_levels, 13, 482.7, 827.5, 1084, 1968.3, 492.3, 1092.3, False)

legend_rows = [i / 2 for i in range(-1, 28)]


def color_legend(colors, X0, X1, Y0, Y1):
    ax, ay = new_axes(X0, X1, Y0, Y1, (0, 1), (-0.5, 13.5),
                      ykw=dict(visible=True, side="right", showline=False, ticks="outside", ticklen=3,
                               tickcolor="rgba(0,0,0,0)", tickmode="array", tickvals=legend_ticks,
                               ticktext=[str(v) for v in legend_ticks],
                               tickfont=dict(family=ROBOTO, size=12.4 * S, color="#dedede")))
    fig.add_trace(go.Heatmap(z=[[v] for v in legend_rows], x=[0.5], y=legend_rows, xaxis=ax, yaxis=ay,
                             showscale=False, colorscale=colors, zmin=0, zmax=13, hoverinfo="skip"))


color_legend(yellow_legend, 411, 426.7, 1085, 1231.7)
color_legend(blue_legend, 839, 854, 1086, 1232.7)

# ---------------------------------------------------------------- dot chart 1
label("<b>California had the most number of major blackout events in 2022</b>", 115, 2278, 18.7, "#ffffff", ROBOTO)
label("Number of major blackouts in 2022", 116, 2303, 14.0, "#e0e0e0", ROBOTO)
label("Source: United States Energy Information Administration", 117, 3223, 12.4, "#8c8c8c", ROBOTO)
DP = 10.33
ROW1 = 18.3
ax, ay = new_axes(140, 800, 2320, 3210, (1 + (140 - 152.1) / DP, 1 + (800 - 152.1) / DP),
                  ((3210 - 2334.4) / ROW1, (2320 - 2334.4) / ROW1))
dx, dy, dc = [], [], []
for r, n in enumerate(blackout_counts):
    for k in range(1, n + 1):
        dx.append(k); dy.append(r); dc.append("#f7931e" if r == 0 else "#c8c8c8")
fig.add_trace(go.Scatter(x=dx, y=dy, mode="markers", xaxis=ax, yaxis=ay, hoverinfo="skip",
                         marker=dict(size=9.5 * S, color=dc, line_width=0)))
for r, st in enumerate(blackout_states):
    annotations.append(dict(text=f"<b>{st}</b>" if r == 0 else st, x=126.5 / REF_W, y=r, xref="paper", yref=ay, xanchor="center",
                            yanchor="middle", showarrow=False, borderpad=0, borderwidth=0,
                            font=dict(family=ROBOTO, size=12.5 * S, color="#f7931e" if r == 0 else "#e4e4e4")))

# ---------------------------------------------------------------- dot chart 2
label("<b>California had the most number of major blackout events in 2022</b>", 115, 3737, 18.7, "#ffffff", ROBOTO)
label("Number of major blackouts in 2022, caused by vandalism or physical attack.", 116, 3762, 13.6, "#e0e0e0", ROBOTO)
label("Source: United States Energy Information Administration", 111, 4517, 12.4, "#8c8c8c", ROBOTO)
ROW2 = 18.8
ax, ay = new_axes(140, 800, 3776, 4500, (1 + (140 - 148.3) / DP, 1 + (800 - 148.3) / DP),
                  ((4500 - 3790.7) / ROW2, (3776 - 3790.7) / ROW2))
gx, gy, yx, yy = [], [], [], []
for r, (a, t) in enumerate(zip(attack_counts, attack_totals)):
    for k in range(1, t + 1):
        if k <= a:
            yx.append(k); yy.append(r)
        else:
            gx.append(k); gy.append(r)
fig.add_trace(go.Scatter(x=gx, y=gy, mode="markers", xaxis=ax, yaxis=ay, hoverinfo="skip",
                         marker=dict(size=9.8 * S, color="#4b4b4d", line_width=0)))
fig.add_trace(go.Scatter(x=yx, y=yy, mode="markers", xaxis=ax, yaxis=ay, hoverinfo="skip",
                         marker=dict(size=9.8 * S, color="#ffcc00", line_width=0)))
for r, (st, sh) in enumerate(zip(attack_states, attack_label_shift)):
    annotations.append(dict(text=st, x=125 / REF_W, y=r + sh, xref="paper", yref=ay, xanchor="center",
                            yanchor="middle", showarrow=False, borderpad=0, borderwidth=0,
                            font=dict(family=ROBOTO, size=12.5 * S, color="#e4e4e4")))

# ---------------------------------------------------------------- region map
label("<b>WECC region experiences the most number of disturbances in 2022</b>", 115, 4970, 18.7, "#ffffff", ROBOTO)
label("Number of major electrical disturbances in 2022", 116, 4994.5, 13.5, "#e0e0e0", ROBOTO)
label("Source: United States Energy Information Administration", 113, 5396, 12.4, "#8c8c8c", ROBOTO)
M_PX = 638.3
m49 = float(merc(49.0))
ax, ay = new_axes(100, 800, 5020, 5400, (-126.94, -126.94 + 700 * 2.24 / 24.95),
                  (m49 - (5400 - 5037.33) / M_PX, m49 - (5020 - 5037.33) / M_PX))
for poly, col in region_fill:
    lo, la = np.array(poly + poly[:1]).T
    fig.add_trace(go.Scatter(x=lo, y=merc(la), mode="lines", fill="toself", fillcolor=col, xaxis=ax, yaxis=ay,
                             hoverinfo="skip", line=dict(color=col, width=0.3)))
lo, la = np.array(outlined_area).T
fig.add_trace(go.Scatter(x=lo, y=merc(la), mode="lines", xaxis=ax, yaxis=ay, hoverinfo="skip",
                         line=dict(color="#777a78", width=0.5)))
lo, la = np.array(ny_pa_line).T
fig.add_trace(go.Scatter(x=lo, y=merc(la), mode="lines", xaxis=ax, yaxis=ay, hoverinfo="skip",
                         line=dict(color="#5fb07a", width=0.5)))
for name, lo_, la_, c_ in zip(region_names, region_name_lon, region_name_lat, region_name_color):
    annotations.append(dict(text=name, x=lo_, y=float(merc(la_)), xref=ax, yref=ay, showarrow=False,
                            borderpad=0, borderwidth=0, font=dict(family=ROBOTO, size=12.5 * S, color=c_)))

# colour scale of the region map
ax, ay = new_axes(134, 280, 5329, 5345, (-1.4, 116.6), (0, 1),
                  xkw=dict(visible=True, showline=False, ticks="outside", ticklen=2, tickcolor="rgba(0,0,0,0)",
                           tickmode="array", tickvals=map_scale_stops, ticktext=[str(v) for v in map_scale_stops],
                           tickfont=dict(family=ROBOTO, size=10.6 * S, color="#dedede")))
fig.add_trace(go.Heatmap(z=[map_scale_values], x=map_scale_values, y=[0.5], xaxis=ax, yaxis=ay, showscale=False,
                         colorscale=map_scale, zmin=0, zmax=116, hoverinfo="skip"))

# ---------------------------------------------------------------- output
fig.update_layout(width=620, height=4096, margin=dict(l=0, r=0, t=0, b=0, pad=0), autosize=False,
                  paper_bgcolor=BG, plot_bgcolor="rgba(0,0,0,0)", showlegend=False,
                  annotations=annotations, shapes=shapes)
fig.write_html("out.html", config={"displayModeBar": False, "responsive": False},
               post_script="document.body.style.margin='0';document.body.style.background='#232328';")
